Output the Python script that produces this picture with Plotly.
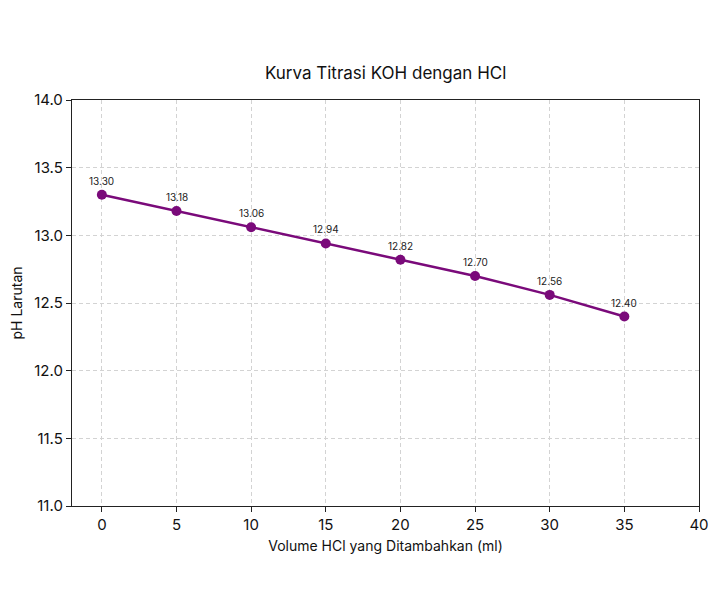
import plotly.graph_objects as go

volume = [0, 5, 10, 15, 20, 25, 30, 35]
ph = [13.30, 13.18, 13.06, 12.94, 12.82, 12.70, 12.56, 12.40]
labels = [f"{v:.2f}" for v in ph]

FONT = "Inter, Open Sans, sans-serif"
COLOR = "#7a0a7a"

fig = go.Figure()
fig.add_trace(go.Scatter(
    x=volume, y=ph, mode="lines+markers",
    line=dict(color=COLOR, width=2.5),
    marker=dict(color=COLOR, size=10),
    showlegend=False, hoverinfo="x+y",
))
for xv, yv, t in zip(volume, ph, labels):
    fig.add_annotation(x=xv, y=yv, text=t, showarrow=False, yshift=14,
                       font=dict(size=10, color="#222", family=FONT))

axis_common = dict(
    showgrid=True, gridcolor="#d3d3d3", griddash="4px,3px", gridwidth=1,
    showline=True, linecolor="#222", linewidth=1.3, mirror=True,
    ticks="outside", ticklen=5, tickcolor="#222",
    zeroline=False, tickfont=dict(size=15, color="#111", family=FONT),
)
fig.update_xaxes(range=[-2, 40], tickvals=list(range(0, 41, 5)),
                 title=dict(text="Volume HCl yang Ditambahkan (ml)", font=dict(size=14, family=FONT, color="#111"), standoff=8),
                 **axis_common)
fig.update_yaxes(range=[11, 14], tickvals=[11, 11.5, 12, 12.5, 13, 13.5, 14], tickformat=".1f",
                 title=dict(text="pH Larutan", font=dict(size=14, family=FONT, color="#111"), standoff=8),
                 **axis_common)
fig.update_layout(
    width=720, height=602,
    margin=dict(l=72, r=21, t=100, b=96),
    paper_bgcolor="white", plot_bgcolor="white",
    title=dict(text="Kurva Titrasi KOH dengan HCl", x=0.5356, xanchor="center", y=1 - 73/602, yanchor="middle",
               font=dict(size=17, family=FONT, color="#111")),
)
fig.write_html("out.html")
